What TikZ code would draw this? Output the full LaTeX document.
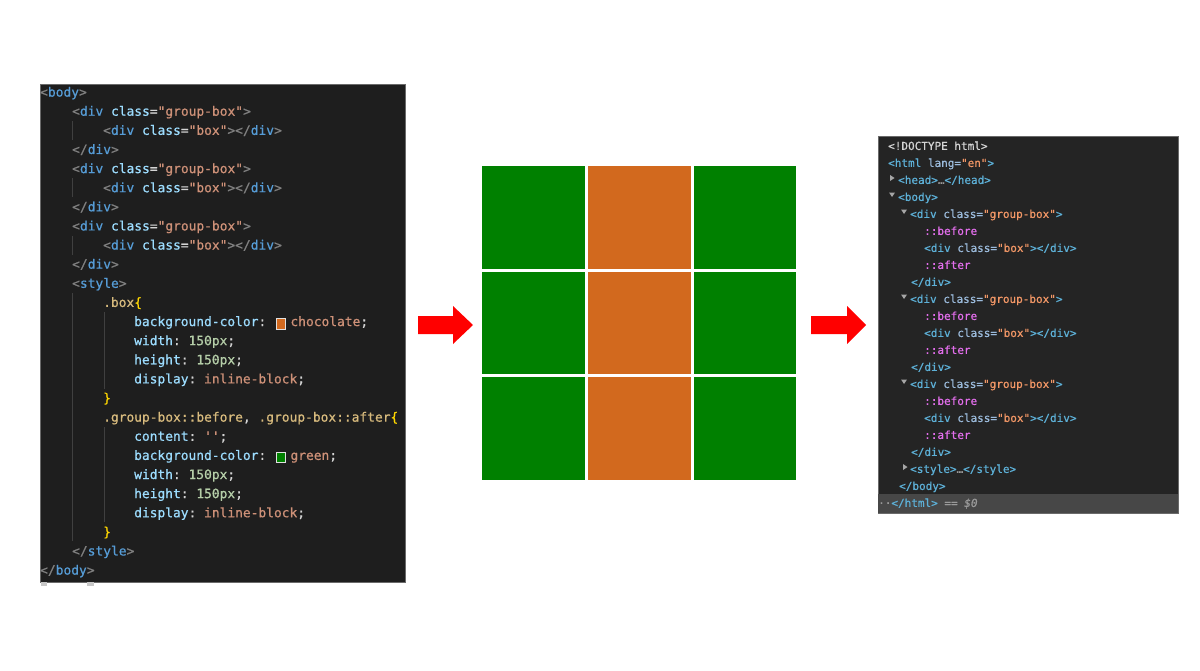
\documentclass[tikz,border=0pt]{standalone}
\usepackage{fontspec}
\setmonofont{DejaVu Sans Mono}[FakeBold=0.7]
\usepackage{xcolor}
\definecolor{vbg}{HTML}{1E1E1E}
\definecolor{vgray}{HTML}{808080}
\definecolor{vtag}{HTML}{569CD6}
\definecolor{vattr}{HTML}{9CDCFE}
\definecolor{vstr}{HTML}{CE9178}
\definecolor{vtext}{HTML}{D4D4D4}
\definecolor{vnum}{HTML}{B5CEA8}
\definecolor{vsel}{HTML}{D7BA7D}
\definecolor{vbr}{HTML}{FFD700}
\definecolor{vguide}{HTML}{404040}
\definecolor{dbg}{HTML}{242424}
\definecolor{dtag}{HTML}{5DB0D7}
\definecolor{dattr}{HTML}{9BBBDC}
\definecolor{dstr}{HTML}{F29766}
\definecolor{dpse}{HTML}{E36EEC}
\definecolor{dtext}{HTML}{D5D5D5}
\definecolor{dgrey}{HTML}{9A9A9A}
\definecolor{dsel}{HTML}{474747}
\definecolor{dtri}{HTML}{A6A6A6}
\definecolor{cssgreen}{HTML}{008000}
\definecolor{csschoc}{HTML}{D2691E}
\definecolor{arrred}{HTML}{FF0000}
\definecolor{swbd}{HTML}{E0E0E0}
\definecolor{panelbd}{HTML}{6A6A6A}

\newcommand\cpg[1]{\textcolor{vgray}{#1}}
\newcommand\ctg[1]{\textcolor{vtag}{#1}}
\newcommand\cat[1]{\textcolor{vattr}{#1}}
\newcommand\cst[1]{\textcolor{vstr}{#1}}
\newcommand\cwt[1]{\textcolor{vtext}{#1}}
\newcommand\cnm[1]{\textcolor{vnum}{#1}}
\newcommand\csel[1]{\textcolor{vsel}{#1}}
\newcommand\cbr[1]{\textcolor{vbr}{#1}}
\newcommand\dtg[1]{\textcolor{dtag}{#1}}
\newcommand\dat[1]{\textcolor{dattr}{#1}}
\newcommand\dst[1]{\textcolor{dstr}{#1}}
\newcommand\dps[1]{\textcolor{dpse}{#1}}
\newcommand\dgr[1]{\textcolor{dgrey}{#1}}
\newcommand\swatch[1]{\hspace{2pt}\raisebox{-2.5pt}{\setlength\fboxsep{0pt}\setlength\fboxrule{1pt}\fcolorbox{swbd}{#1}{\rule{0pt}{9.5pt}\rule{8.5pt}{0pt}}}\hspace{4pt}}

\newcommand\LL[4]{\node[lcode] (#1) at (#2,{92+19.12*(#3-1)+4.6}) {#4};}
\newcommand\RL[4]{\node[rcode] (#1) at (#2,{146+17*(#3-1)+3.9}) {#4};}
\newcommand\TriR[2]{\fill[dtri] (#1,{146+17*(#2-1)-5}) -- ({#1+4.5},{146+17*(#2-1)-2}) -- (#1,{146+17*(#2-1)+1}) -- cycle;}
\newcommand\TriD[2]{\fill[dtri] (#1,{146+17*(#2-1)-4.5}) -- ({#1+6},{146+17*(#2-1)-4.5}) -- ({#1+3},{146+17*(#2-1)}) -- cycle;}

\tikzset{
  lcode/.style={anchor=base west, inner sep=0pt, font=\ttfamily\fontsize{12.9}{15}\selectfont, text=vtext},
  rcode/.style={anchor=base west, inner sep=0pt, font=\ttfamily\fontsize{11}{13}\selectfont, text=dtext},
  guide/.style={draw=vguide, line width=0.8pt},
  blockarrow/.style={fill=arrred, draw=none},
}

\begin{document}
\begin{tikzpicture}[x=1pt,y=-1pt]
\useasboundingbox (0,0) rectangle (1200,670);
\fill[white] (0,0) rectangle (1200,670);

% ---------- left code panel ----------
\node[draw=panelbd, line width=0.8pt, fill=vbg, inner sep=0pt, minimum width=365pt, minimum height=498pt, anchor=north west] (leftpanel) at (40,84) {};
\fill[black!22] (41,582) rectangle (47,586);
\fill[black!22] (87,582) rectangle (94,586);

% indent guides
\draw[guide] (72,121) -- (72,140);
\draw[guide] (72,178) -- (72,197);
\draw[guide] (72,236) -- (72,255);
\draw[guide] (72,293) -- (72,541);
\draw[guide] (104,312) -- (104,389);
\draw[guide] (104,427) -- (104,522);

\LL{l1}{40}{1}{\cpg{<}\ctg{body}\cpg{>}}
\LL{l2}{72}{2}{\cpg{<}\ctg{div} \cat{class}\cwt{=}\cst{"group-box"}\cpg{>}}
\LL{l3}{103}{3}{\cpg{<}\ctg{div} \cat{class}\cwt{=}\cst{"box"}\cpg{></}\ctg{div}\cpg{>}}
\LL{l4}{72}{4}{\cpg{</}\ctg{div}\cpg{>}}
\LL{l5}{72}{5}{\cpg{<}\ctg{div} \cat{class}\cwt{=}\cst{"group-box"}\cpg{>}}
\LL{l6}{103}{6}{\cpg{<}\ctg{div} \cat{class}\cwt{=}\cst{"box"}\cpg{></}\ctg{div}\cpg{>}}
\LL{l7}{72}{7}{\cpg{</}\ctg{div}\cpg{>}}
\LL{l8}{72}{8}{\cpg{<}\ctg{div} \cat{class}\cwt{=}\cst{"group-box"}\cpg{>}}
\LL{l9}{103}{9}{\cpg{<}\ctg{div} \cat{class}\cwt{=}\cst{"box"}\cpg{></}\ctg{div}\cpg{>}}
\LL{l10}{72}{10}{\cpg{</}\ctg{div}\cpg{>}}
\LL{l11}{72}{11}{\cpg{<}\ctg{style}\cpg{>}}
\LL{l12}{103}{12}{\csel{.box}\cbr{\{}}
\LL{l13}{134}{13}{\cat{background-color}\cwt{:} \swatch{csschoc}\cst{chocolate}\cwt{;}}
\LL{l14}{134}{14}{\cat{width}\cwt{:} \cnm{150px}\cwt{;}}
\LL{l15}{134}{15}{\cat{height}\cwt{:} \cnm{150px}\cwt{;}}
\LL{l16}{134}{16}{\cat{display}\cwt{:} \cst{inline-block}\cwt{;}}
\LL{l17}{103}{17}{\cbr{\}}}
\LL{l18}{103}{18}{\csel{.group-box::before}\cwt{, }\csel{.group-box::after}\cbr{\{}}
\LL{l19}{134}{19}{\cat{content}\cwt{:} \cst{''}\cwt{;}}
\LL{l20}{134}{20}{\cat{background-color}\cwt{:} \swatch{cssgreen}\cst{green}\cwt{;}}
\LL{l21}{134}{21}{\cat{width}\cwt{:} \cnm{150px}\cwt{;}}
\LL{l22}{134}{22}{\cat{height}\cwt{:} \cnm{150px}\cwt{;}}
\LL{l23}{134}{23}{\cat{display}\cwt{:} \cst{inline-block}\cwt{;}}
\LL{l24}{103}{24}{\cbr{\}}}
\LL{l25}{72}{25}{\cpg{</}\ctg{style}\cpg{>}}
\LL{l26}{40}{26}{\cpg{</}\ctg{body}\cpg{>}}

% ---------- arrows ----------
\fill[blockarrow] (418,316) -- (453,316) -- (453,306) -- (473,325) -- (453,344) -- (453,334) -- (418,334) -- cycle;
\fill[blockarrow] (811,316) -- (847,316) -- (847,306) -- (866,325) -- (847,344) -- (847,334) -- (811,334) -- cycle;

% ---------- rendered grid ----------
\fill[cssgreen] (482,166) rectangle (585,269);
\fill[csschoc]  (588,166) rectangle (691,269);
\fill[cssgreen] (694,166) rectangle (796,269);
\fill[cssgreen] (482,272) rectangle (585,374);
\fill[csschoc]  (588,272) rectangle (691,374);
\fill[cssgreen] (694,272) rectangle (796,374);
\fill[cssgreen] (482,377) rectangle (585,480);
\fill[csschoc]  (588,377) rectangle (691,480);
\fill[cssgreen] (694,377) rectangle (796,480);

% ---------- right devtools panel ----------
\node[draw=panelbd, line width=0.8pt, fill=dbg, inner sep=0pt, minimum width=300pt, minimum height=377pt, anchor=north west] (rightpanel) at (878,136) {};
\fill[dsel] (878.4,494) rectangle (1177.6,512.6);

\RL{r1}{888}{1}{<!DOCTYPE html>}
\RL{r2}{888}{2}{\dtg{<html} \dat{lang=}\dst{"en"}\dtg{>}}
\TriR{890}{3}
\RL{r3}{898}{3}{\dtg{<head>}\dgr{…}\dtg{</head>}}
\TriD{889}{4}
\RL{r4}{898}{4}{\dtg{<body>}}
\TriD{901}{5}
\RL{r5}{910}{5}{\dtg{<div} \dat{class=}\dst{"group-box"}\dtg{>}}
\RL{r6}{924}{6}{\dps{::before}}
\RL{r7}{924}{7}{\dtg{<div} \dat{class=}\dst{"box"}\dtg{></div>}}
\RL{r8}{924}{8}{\dps{::after}}
\RL{r9}{911}{9}{\dtg{</div>}}
\TriD{901}{10}
\RL{r10}{910}{10}{\dtg{<div} \dat{class=}\dst{"group-box"}\dtg{>}}
\RL{r11}{924}{11}{\dps{::before}}
\RL{r12}{924}{12}{\dtg{<div} \dat{class=}\dst{"box"}\dtg{></div>}}
\RL{r13}{924}{13}{\dps{::after}}
\RL{r14}{911}{14}{\dtg{</div>}}
\TriD{901}{15}
\RL{r15}{910}{15}{\dtg{<div} \dat{class=}\dst{"group-box"}\dtg{>}}
\RL{r16}{924}{16}{\dps{::before}}
\RL{r17}{924}{17}{\dtg{<div} \dat{class=}\dst{"box"}\dtg{></div>}}
\RL{r18}{924}{18}{\dps{::after}}
\RL{r19}{911}{19}{\dtg{</div>}}
\TriR{903}{20}
\RL{r20}{910}{20}{\dtg{<style>}\dgr{…}\dtg{</style>}}
\RL{r21}{899}{21}{\dtg{</body>}}
\RL{r22}{878}{22}{\dgr{··}\dtg{</html>} \dgr{\itshape == \$0}}
\end{tikzpicture}
\end{document}
